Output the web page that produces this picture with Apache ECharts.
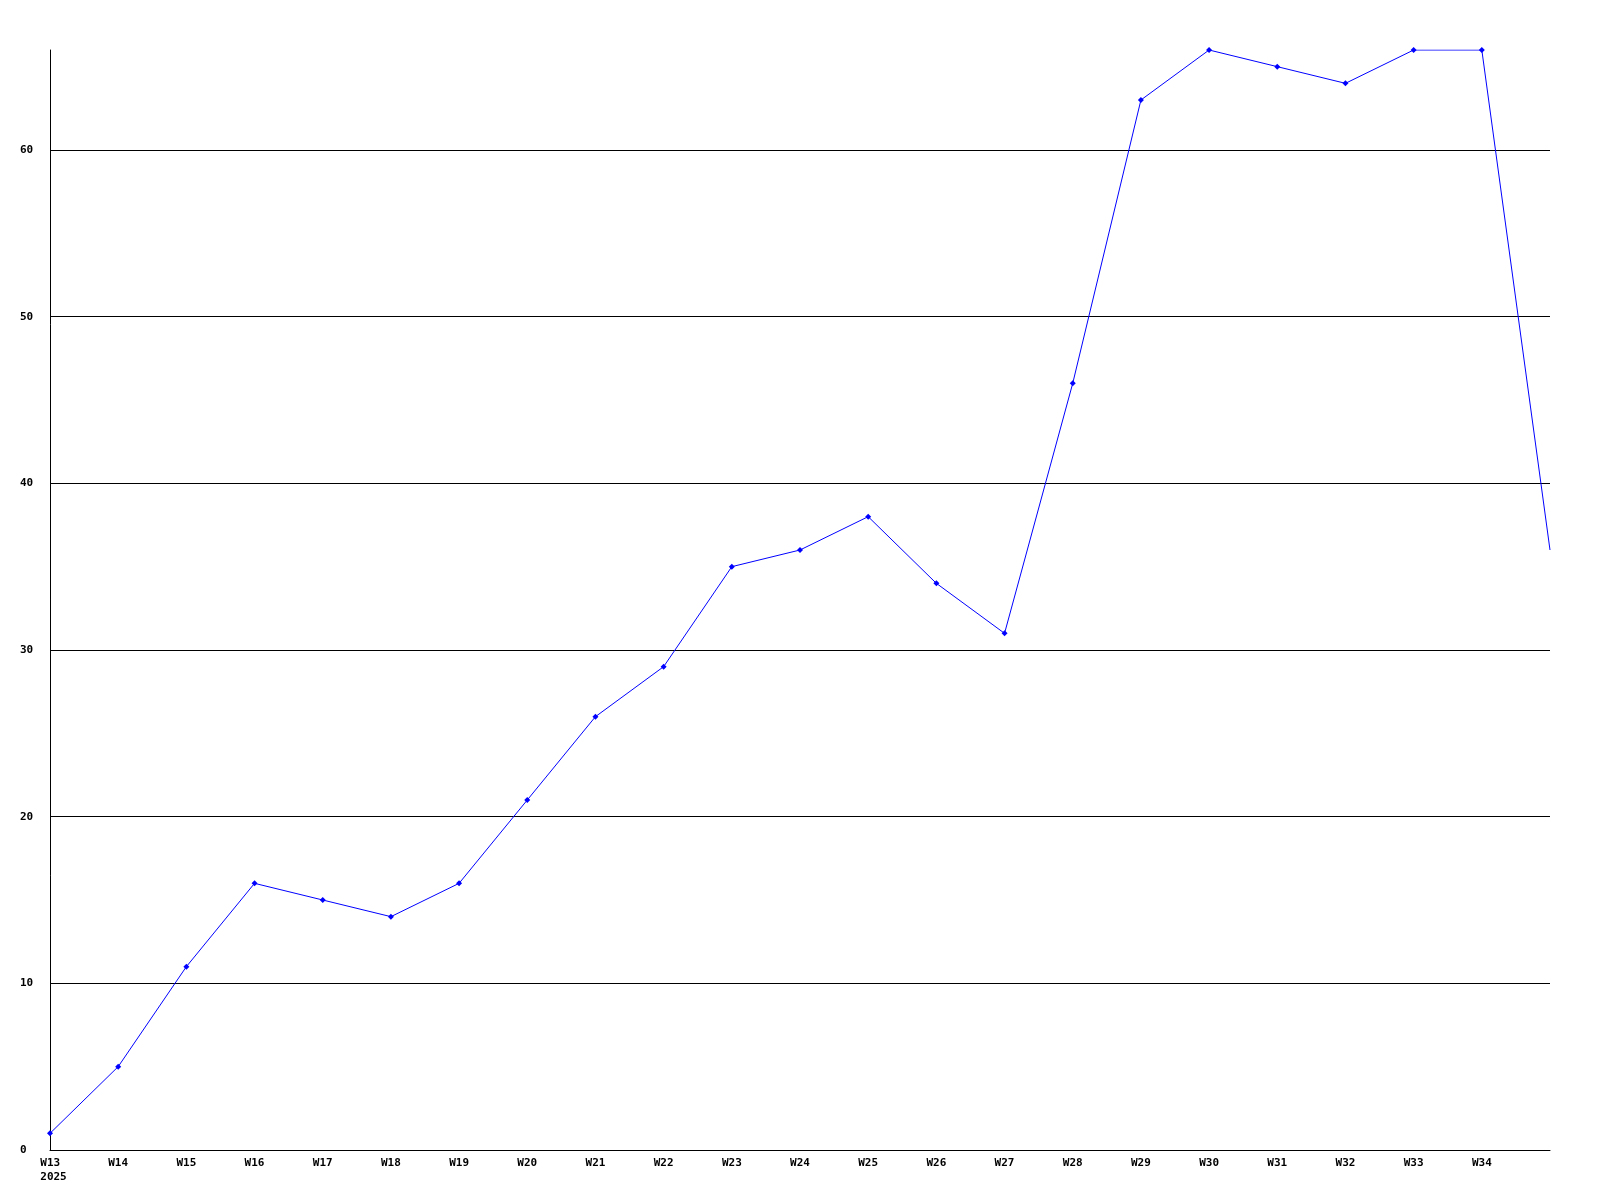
<!DOCTYPE html>
<html>
<head>
<meta charset="utf-8">
<script src="https://cdn.jsdelivr.net/npm/echarts@6/dist/echarts.min.js"></script>
<style>
html,body{margin:0;padding:0;background:#fff;}
#chart{width:1600px;height:1200px;}
</style>
</head>
<body>
<div id="chart"></div>
<script>
const weeks = ['W13','W14','W15','W16','W17','W18','W19','W20','W21','W22','W23','W24','W25','W26','W27','W28','W29','W30','W31','W32','W33','W34','W35'];
const values = [1,5,11,16,15,14,16,21,26,29,35,36,38,34,31,46,63,66,65,64,66,66,36];
const yearLabel = '2025';

const chart = echarts.init(document.getElementById('chart'));
const font = 'DejaVu Sans Mono';
chart.setOption({
  animation: false,
  backgroundColor: '#ffffff',
  grid: {left: 50, right: 50, top: 50, bottom: 50, containLabel: false},
  xAxis: {
    type: 'category',
    data: weeks,
    boundaryGap: false,
    axisLine: {show: true, lineStyle: {color: '#000', width: 1}},
    axisTick: {show: false},
    splitLine: {show: false},
    axisLabel: {
      interval: 0,
      showMaxLabel: false,
      margin: 6,
      color: '#000',
      fontFamily: font,
      fontWeight: 'bold',
      fontSize: 11,
      lineHeight: 14,
      formatter: function (v, i) {
        if (i === weeks.length - 1) return '';
        if (i === 0) return '{a|' + v + '}\n{a|' + yearLabel + '}';
        return v;
      },
      rich: {
        a: {fontFamily: font, fontWeight: 'bold', fontSize: 11, lineHeight: 14, color: '#000', align: 'left', padding: [0, 0, 0, 7]}
      }
    }
  },
  yAxis: {
    type: 'value',
    min: 0,
    max: 66,
    interval: 10,
    axisLine: {show: true, lineStyle: {color: '#000', width: 1}},
    axisTick: {show: false},
    splitLine: {show: true, showMaxLine: false, lineStyle: {color: '#000', width: 1}},
    axisLabel: {
      showMaxLabel: false,
      align: 'left',
      margin: 30,
      color: '#000',
      fontFamily: font,
      fontWeight: 'bold',
      fontSize: 11,
      formatter: function (v) { return v % 10 === 0 ? String(v) : ''; }
    }
  },
  series: [{
    type: 'line',
    data: values.map(function (v, i) {
      return i === values.length - 1 ? {value: v, symbol: 'none'} : v;
    }),
    symbol: 'diamond',
    symbolSize: 6,
    showAllSymbol: true,
    lineStyle: {color: '#0000ff', width: 1},
    itemStyle: {color: '#0000ff'},
    emphasis: {disabled: true}
  }]
});
</script>
</body>
</html>
